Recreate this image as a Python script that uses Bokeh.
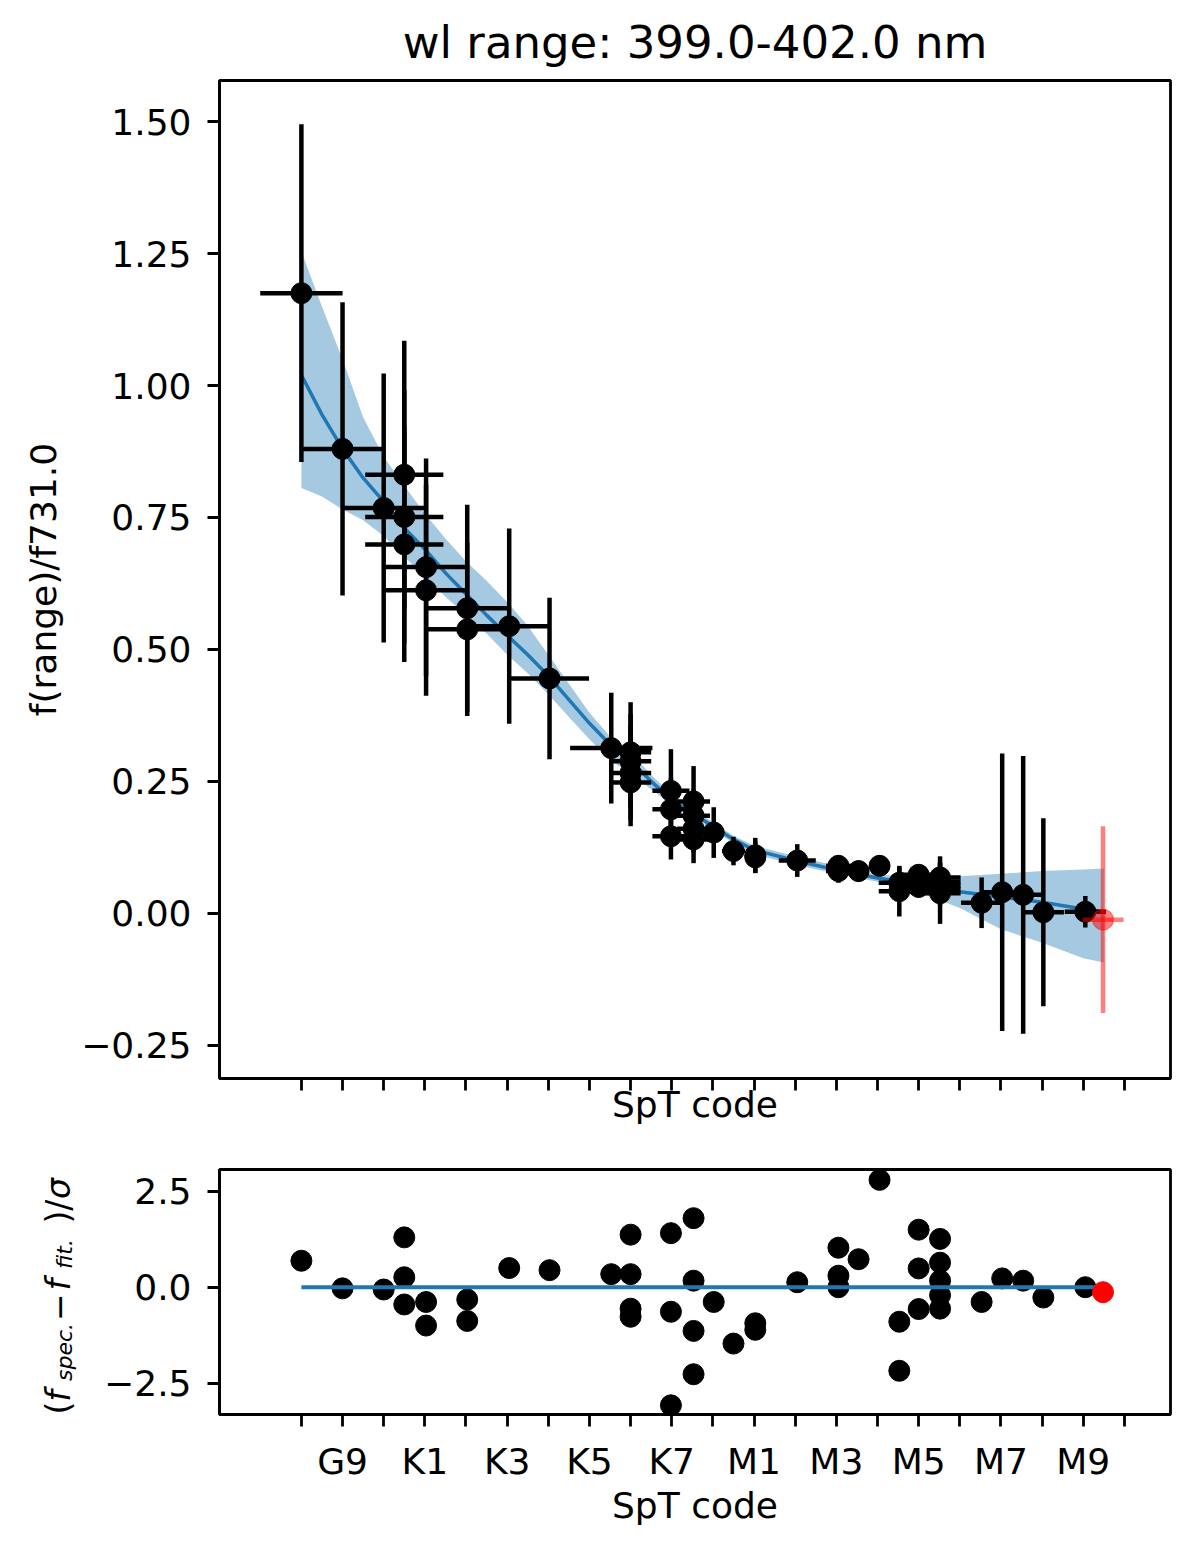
import numpy as np
from bokeh.plotting import figure
from bokeh.layouts import column, row
from bokeh.models import FixedTicker, Range1d
from bokeh.core.properties import value
from bokeh.embed import file_html
from bokeh.resources import INLINE

FONT = "DejaVu Sans"
BLUE = "#1f77b4"

# SpT code axis
spt_ticks = list(range(21))
spt_names = ["", "G9", "", "K1", "", "K3", "", "K5", "", "K7", "",
             "M1", "", "M3", "", "M5", "", "M7", "", "M9", ""]

ratio_ticks = [-0.25, 0.0, 0.25, 0.5, 0.75, 1.0, 1.25, 1.5]
ratio_tick_labels = ["\u22120.25", "0.00", "0.25", "0.50", "0.75", "1.00", "1.25", "1.50"]
resid_ticks = [-2.5, 0.0, 2.5]
resid_tick_labels = ["\u22122.5", "0.0", "2.5"]

# templates used in the fit (black)
spt = [0.00, 1.00, 2.00, 2.50, 2.50, 2.50, 3.03, 3.03, 4.03, 4.03,
       5.05, 6.03, 7.53, 8.00, 8.00, 8.00, 8.00, 8.98, 8.98, 8.98,
       9.53, 9.53, 9.53, 9.53, 10.02, 10.50, 11.03, 11.03, 12.05, 13.05,
       13.05, 13.05, 13.54, 14.05, 14.53, 14.53, 15.00, 15.00, 15.00, 15.52,
       15.52, 15.52, 15.52, 15.52, 16.53, 17.03, 17.54, 18.03, 19.05]
spt_err = [1.00, 1.00, 1.00, 0.95, 0.95, 0.95, 1.00, 1.00, 1.00, 1.00,
           1.00, 0.96, 1.00, 0.50, 0.50, 0.50, 0.50, 0.45, 0.45, 0.45,
           0.40, 0.40, 0.40, 0.40, 0.25, 0.28, 0.25, 0.25, 0.45, 0.30,
           0.30, 0.30, 0.25, 0.25, 0.50, 0.50, 0.40, 0.40, 0.40, 0.50,
           0.50, 0.50, 0.50, 0.50, 0.50, 0.50, 0.50, 0.50, 0.50]
ratio = [1.175, 0.880, 0.768, 0.831, 0.751, 0.699, 0.656, 0.612, 0.578, 0.538,
         0.544, 0.445, 0.313, 0.305, 0.288, 0.266, 0.248, 0.232, 0.197, 0.146,
         0.212, 0.185, 0.160, 0.140, 0.153, 0.118, 0.110, 0.106, 0.100, 0.090,
         0.084, 0.080, 0.080, 0.090, 0.058, 0.042, 0.073, 0.060, 0.050, 0.068,
         0.060, 0.052, 0.045, 0.038, 0.020, 0.040, 0.035, 0.002, 0.003]
ratio_err = [0.320, 0.278, 0.255, 0.254, 0.240, 0.223, 0.206, 0.200, 0.196, 0.164,
             0.185, 0.153, 0.105, 0.095, 0.090, 0.090, 0.083, 0.079, 0.060, 0.044,
             0.067, 0.050, 0.045, 0.045, 0.048, 0.027, 0.033, 0.030, 0.031, 0.020,
             0.025, 0.022, 0.020, 0.020, 0.030, 0.048, 0.020, 0.025, 0.020, 0.040,
             0.035, 0.030, 0.030, 0.058, 0.048, 0.263, 0.263, 0.178, 0.030]
resid = [0.69, -0.03, -0.06, 1.30, 0.26, -0.45, -0.385, -1.00, -0.32, -0.88,
         0.50, 0.445, 0.34, 1.37, 0.34, -0.56, -0.77, 1.41, -0.64, -3.08,
         1.80, 0.17, -1.14, -2.27, -0.385, -1.47, -0.94, -1.11, 0.13, 1.03,
         0.30, 0.00, 0.73, 2.80, -0.90, -2.18, 1.50, 0.49, -0.57, 1.26,
         0.64, 0.17, -0.21, -0.56, -0.385, 0.23, 0.17, -0.27, 0.00]

# template left out of the fit (red)
out_spt = [19.48]
out_spt_err = [0.50]
out_ratio = [-0.012]
out_ratio_err = [0.177]
out_resid = [-0.13]

# best fit and its uncertainty band
fit_spt = [0, 0.5, 1, 1.5, 2, 2.5, 3, 3.5, 4, 4.5, 5, 5.5, 6, 6.5, 7, 7.5, 8,
           8.5, 9, 9.5, 10, 10.5, 11, 12, 13, 14, 15, 16, 17, 18, 19, 19.5]
fit_ratio = [1.02, 0.945, 0.88, 0.825, 0.78, 0.73, 0.69, 0.645, 0.605, 0.565,
             0.527, 0.49, 0.45, 0.405, 0.36, 0.32, 0.288, 0.25, 0.215, 0.19,
             0.165, 0.14, 0.12, 0.10, 0.082, 0.067, 0.054, 0.041, 0.031, 0.021,
             0.008, 0.003]
fit_hi = [1.254, 1.15, 1.05, 0.94, 0.865, 0.81, 0.757, 0.71, 0.667, 0.63,
          0.59, 0.545, 0.49, 0.435, 0.38, 0.335, 0.305, 0.262, 0.225, 0.198,
          0.172, 0.147, 0.128, 0.108, 0.09, 0.074, 0.066, 0.07, 0.075, 0.08,
          0.083, 0.085]
fit_lo = [0.806, 0.79, 0.765, 0.745, 0.715, 0.675, 0.64, 0.60, 0.565, 0.53,
          0.49, 0.455, 0.415, 0.372, 0.33, 0.29, 0.265, 0.235, 0.205, 0.182,
          0.158, 0.133, 0.112, 0.092, 0.075, 0.06, 0.04, 0.01, -0.03, -0.056,
          -0.085, -0.093]

named = [t for t, n in zip(spt_ticks, spt_names) if n]
unnamed = [t for t, n in zip(spt_ticks, spt_names) if not n]


def style(p, yticks, ylabels):
    p.xgrid.visible = False
    p.ygrid.visible = False
    p.outline_line_color = "black"
    p.outline_line_width = 2.8
    p.outline_line_alpha = 1.0
    for ax in (p.xaxis[0], p.yaxis[0]):
        ax.axis_line_width = 2.8
        ax.major_tick_line_width = 2.8
        ax.major_tick_out = 12
        ax.major_tick_in = 0
        ax.minor_tick_line_width = 2.8
        ax.minor_tick_out = 12
        ax.minor_tick_in = 0
        ax.major_label_text_font = FONT
        ax.major_label_text_font_size = "36px"
        ax.major_label_text_color = "black"
        ax.axis_label_text_font = FONT
        ax.axis_label_text_font_size = "36px"
        ax.axis_label_text_font_style = "normal"
        ax.axis_label_text_color = "black"
    p.yaxis.ticker = FixedTicker(ticks=yticks, minor_ticks=[])
    p.yaxis.major_label_overrides = dict(zip(yticks, ylabels))
    p.yaxis.major_label_standoff = 16


x = np.array(spt)
xe = np.array(spt_err)
y = np.array(ratio)
ye = np.array(ratio_err)

# --- top panel: flux ratio vs SpT ---
p = figure(width=1183, height=1148, output_backend="svg", toolbar_location=None,
           x_range=Range1d(-1.99, 21.12), y_range=Range1d(-0.313, 1.578),
           min_border_left=219, min_border_right=13, min_border_top=80,
           min_border_bottom=70, title="wl range: 399.0-402.0 nm")
p.title.text_font = FONT
p.title.text_font_size = "45px"
p.title.text_font_style = "normal"
p.title.text_color = "black"
p.title.align = "center"
p.title.standoff = 24
style(p, ratio_ticks, ratio_tick_labels)
# ticks without labels on the upper panel
p.xaxis.ticker = FixedTicker(ticks=[], minor_ticks=spt_ticks)
p.xaxis.major_label_standoff = 0
p.xaxis.axis_label = "SpT code"
p.xaxis.axis_label_standoff = -7
p.yaxis.axis_label = "f(range)/f731.0"
p.yaxis.axis_label_standoff = 14

p.varea(x=fit_spt, y1=fit_lo, y2=fit_hi, fill_color=BLUE, fill_alpha=0.4)
p.line(fit_spt, fit_ratio, line_color=BLUE, line_width=3.5)
p.segment(x0=x, y0=y - ye, x1=x, y1=y + ye, line_color="black", line_width=4.5)
p.segment(x0=x - xe, y0=y, x1=x + xe, y1=y, line_color="black", line_width=4.5)
p.scatter(x, y, size=21, color="black")

ox = np.array(out_spt)
oxe = np.array(out_spt_err)
oy = np.array(out_ratio)
oye = np.array(out_ratio_err)
p.segment(x0=ox, y0=oy - oye, x1=ox, y1=oy + oye, line_color="red",
          line_alpha=0.5, line_width=4.5)
p.segment(x0=ox - oxe, y0=oy, x1=ox + oxe, y1=oy, line_color="red",
          line_alpha=0.5, line_width=4.5)
p.scatter(ox, oy, size=21, fill_color="red", fill_alpha=0.5,
          line_color="red", line_alpha=0.5)

# --- bottom panel: residuals ---
r = figure(width=1083, height=380, output_backend="svg", toolbar_location=None,
           x_range=p.x_range, y_range=Range1d(-3.32, 3.07),
           min_border_left=119, min_border_right=13, min_border_top=21,
           min_border_bottom=110)
style(r, resid_ticks, resid_tick_labels)
r.xaxis.ticker = FixedTicker(ticks=named, minor_ticks=unnamed)
r.xaxis.major_label_overrides = {t: n for t, n in zip(spt_ticks, spt_names) if n}
r.xaxis.axis_label = "SpT code"
r.xaxis.major_label_standoff = 14
r.xaxis.axis_label_standoff = 0

r.scatter(spt, resid, size=21, color="black")
r.line(fit_spt, np.zeros(len(fit_spt)), line_color=BLUE, line_width=4)
r.scatter(out_spt, out_resid, size=21, color="red")

# y label of the residual panel: (f_spec. - f_fit.)/sigma, set piece by piece
# in a narrow strip left of the panel; its frame matches the panel's frame,
# one data unit = one pixel, text reading upwards
lab = figure(width=100, height=380, output_backend="svg", toolbar_location=None,
             x_range=Range1d(0, 100), y_range=Range1d(0, 249),
             x_axis_type=None, y_axis_type=None,
             min_border_left=0, min_border_right=0, min_border_top=21,
             min_border_bottom=110, outline_line_color=None)
lab.xgrid.visible = False
lab.ygrid.visible = False
pieces = [
    ("(", 0, 58, "33px", "normal", "left"),
    ("f", 13, 58, "33px", "italic", "left"),
    ("spec.", 34, 64, "22px", "italic", "left"),
    ("\u2212", 109, 58, "33px", "normal", "center"),
    ("f", 126, 58, "33px", "italic", "left"),
    ("fit.", 148, 64, "22px", "italic", "left"),
    (")/", 194, 58, "33px", "normal", "left"),
    ("\u03c3", 219, 58, "33px", "italic", "left"),
]
for txt, ys, xs, size, fstyle, align in pieces:
    lab.text(x=[xs], y=[ys], text=[txt], angle=np.pi / 2,
             text_font=value(FONT), text_font_size=value(size),
             text_font_style=fstyle, text_align=align,
             text_baseline="alphabetic", text_color="black")

layout = column(p, row(lab, r))
open("out.html", "w").write(file_html(layout, INLINE))
